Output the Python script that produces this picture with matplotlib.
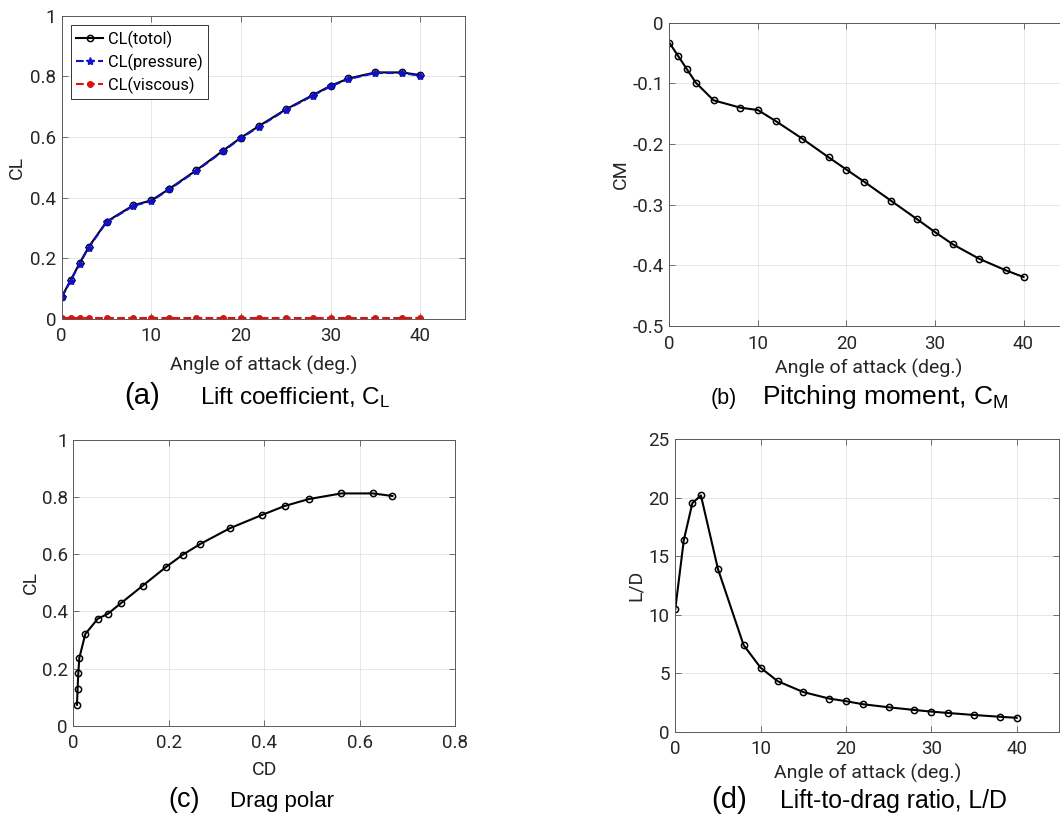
import matplotlib
matplotlib.use("Agg")
import matplotlib.pyplot as plt
from matplotlib.ticker import FuncFormatter

# ---------------- data ----------------
alpha = [0, 1, 2, 3, 5, 8, 10, 12, 15, 18, 20, 22, 25, 28, 30, 32, 35, 38, 40]
cl_total = [0.073, 0.128, 0.184, 0.237, 0.321, 0.375, 0.391, 0.429, 0.490, 0.555,
            0.598, 0.636, 0.691, 0.738, 0.769, 0.793, 0.813, 0.813, 0.804]
cl_pressure = [0.071, 0.126, 0.182, 0.235, 0.319, 0.373, 0.389, 0.427, 0.488, 0.553,
               0.596, 0.634, 0.689, 0.736, 0.767, 0.791, 0.811, 0.811, 0.802]
cl_viscous = [0.002, 0.002, 0.002, 0.002, 0.002, 0.002, 0.002, 0.002, 0.002, 0.002,
              0.002, 0.002, 0.002, 0.002, 0.002, 0.002, 0.002, 0.002, 0.002]
cm = [-0.033, -0.055, -0.077, -0.099, -0.128, -0.140, -0.144, -0.162, -0.191, -0.222,
      -0.242, -0.262, -0.293, -0.324, -0.345, -0.365, -0.389, -0.408, -0.419]
cd = [0.0077, 0.0090, 0.0105, 0.0126, 0.0252, 0.0517, 0.072, 0.100, 0.1455, 0.194,
      0.229, 0.266, 0.328, 0.396, 0.443, 0.493, 0.5615, 0.628, 0.669]
ld = [10.49, 16.39, 19.54, 20.2, 13.9, 7.4, 5.46, 4.31, 3.38, 2.83,
      2.6, 2.34, 2.08, 1.85, 1.71, 1.59, 1.42, 1.27, 1.18]

legend_labels = ["CL(totol)", "CL(pressure)", "CL(viscous)"]
xlabel_aoa = "Angle of attack (deg.)"

# ---------------- style ----------------
plt.rcParams['font.family'] = ['Roboto', 'DejaVu Sans']
plt.rcParams['axes.unicode_minus'] = False
plt.rcParams['mathtext.default'] = 'regular'

W, H = 1060, 819
fig = plt.figure(figsize=(W / 100, H / 100), dpi=100)
fig.patch.set_facecolor('white')

TICK_FS = 13.5
LABEL_FS = 14
AX_COLOR = '#262626'
SPINE_COLOR = '#5a5a5a'


def px_axes(left, right, top, bottom):
    return fig.add_axes([left / W, 1 - bottom / H, (right - left) / W, (bottom - top) / H])


def style(ax):
    ax.grid(True, color='#e2e2e2', lw=0.6)
    ax.set_axisbelow(True)
    for s in ax.spines.values():
        s.set_color(SPINE_COLOR)
        s.set_linewidth(0.7)
    ax.tick_params(direction='in', length=4, width=0.6, color=SPINE_COLOR,
                   top=True, right=True, labelsize=TICK_FS, labelcolor=AX_COLOR)
    ax.tick_params(axis='x', pad=6)
    ax.tick_params(axis='y', pad=4)
    fmt = FuncFormatter(lambda v, p: ('%g' % round(v, 6)))
    ax.xaxis.set_major_formatter(fmt)
    ax.yaxis.set_major_formatter(fmt)


def set_labels(ax, xl, yl, xy, yx):
    ax.set_xlabel(xl, fontsize=LABEL_FS, color=AX_COLOR)
    ax.set_ylabel(yl, fontsize=LABEL_FS, color=AX_COLOR)
    ax.xaxis.set_label_coords(0.5, xy)
    ax.yaxis.set_label_coords(yx, 0.5)
    ax.xaxis.label.set_va('center')
    ax.yaxis.label.set_va('center')


line_kw = dict(color='black', lw=1.5, marker='o', markersize=4.5,
               markerfacecolor='none', markeredgecolor='black', markeredgewidth=1.1)

# ---------------- (a) ----------------
ax = px_axes(61.7, 465, 15.7, 319)
style(ax)
ax.plot(alpha, cl_total, label=legend_labels[0], **line_kw)
ax.plot(alpha, cl_pressure, color='#1010c8', lw=1.5, ls='--', marker='*',
        markersize=6, label=legend_labels[1])
ax.plot(alpha, cl_viscous, color='#e01010', lw=1.5, ls='--', marker='o',
        markersize=4, markerfacecolor='#e01010', markeredgecolor='#e01010',
        label=legend_labels[2])
ax.set_xlim(0, 45)
ax.set_ylim(0, 1)
ax.set_xticks([0, 10, 20, 30, 40])
ax.set_yticks([0, 0.2, 0.4, 0.6, 0.8, 1])
set_labels(ax, xlabel_aoa, "CL", -0.152, -0.111)
leg = ax.legend(loc='upper left', fontsize=11.8, frameon=True, fancybox=False,
                handlelength=1.6, handletextpad=0.3, borderpad=0.35,
                labelspacing=0.35, borderaxespad=0.55, framealpha=1)
leg.get_frame().set_edgecolor('#333333')
leg.get_frame().set_linewidth(0.7)

# ---------------- (b) ----------------
ax = px_axes(669.3, 1067.8, 22.6, 326.2)
style(ax)
ax.plot(alpha, cm, **line_kw)
ax.set_xlim(0, 45)
ax.set_ylim(-0.5, 0)
ax.set_xticks([0, 10, 20, 30, 40])
ax.set_yticks([-0.5, -0.4, -0.3, -0.2, -0.1, 0])
set_labels(ax, xlabel_aoa, "CM", -0.1377, -0.1227)

# ---------------- (c) ----------------
ax = px_axes(73.3, 455, 440, 725.7)
style(ax)
ax.plot(cd, cl_total, **line_kw)
ax.set_xlim(0, 0.8)
ax.set_ylim(0, 1)
ax.set_xticks([0, 0.2, 0.4, 0.6, 0.8])
ax.set_yticks([0, 0.2, 0.4, 0.6, 0.8, 1])
set_labels(ax, "CD", "CL", -0.155, -0.111)

# ---------------- (d) ----------------
ax = px_axes(675.3, 1059.4, 439.3, 731.6)
style(ax)
ax.plot(alpha, ld, **line_kw)
ax.set_xlim(0, 45)
ax.set_ylim(0, 25)
ax.set_xticks([0, 10, 20, 30, 40])
ax.set_yticks([0, 5, 10, 15, 20, 25])
set_labels(ax, xlabel_aoa, "L/D", -0.1416, -0.103)

# ---------------- captions ----------------
CAP_FONT = ['Liberation Sans', 'DejaVu Sans']


def caption(xl, xt, ybase, letter, text, lsize, tsize):
    fig.text(xl / W, 1 - ybase / H, letter, fontsize=lsize, family=CAP_FONT,
             ha='left', va='baseline', color='black')
    fig.text(xt / W, 1 - ybase / H, text, fontsize=tsize, family=CAP_FONT,
             ha='left', va='baseline', color='black')


caption(124, 200, 404, "(a)", r"Lift coefficient, C$_\mathregular{L}$", 21, 17.5)
caption(711, 762, 404, "(b)", r"Pitching moment, C$_\mathregular{M}$", 15.5, 19)
caption(168, 230, 807, "(c)", "Drag polar", 19.5, 16)
caption(711, 780, 808, "(d)", "Lift-to-drag ratio, L/D", 21, 17.9)

fig.savefig("out.png", dpi=100)
